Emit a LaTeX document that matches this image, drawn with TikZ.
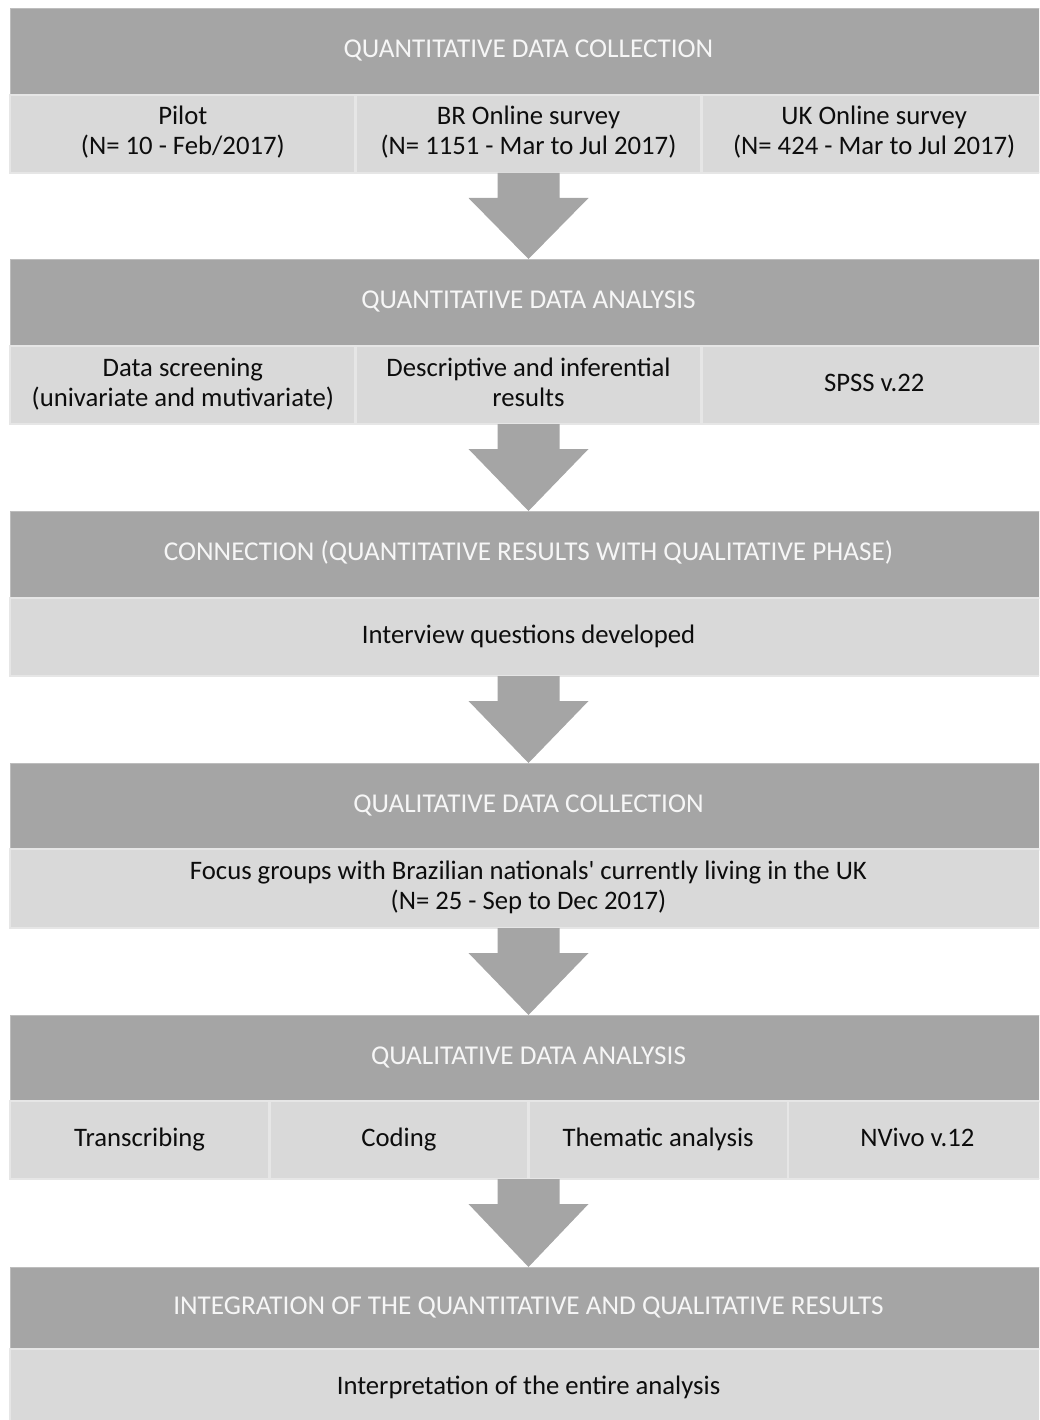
\documentclass[tikz,border=0pt]{standalone}
\usepackage{fontspec}
\setmainfont{Carlito}
\usetikzlibrary{calc}
\definecolor{headgray}{HTML}{A5A5A5}
\definecolor{headedge}{HTML}{BDBDBD}
\definecolor{cellgray}{HTML}{D9D9D9}
\definecolor{celledge}{HTML}{E6E6E6}
\definecolor{headtext}{HTML}{F6F6F6}
\definecolor{celltext}{HTML}{0D0D0D}
% block arrow from the bottom of one stage to the top of the next
\newcommand\stagearrow[2]{%
  \fill[headgray] ($(#1.south)+(-31,0)$) -- ($(#1.south)+(31,0)$)
    -- ($(#1.south)+(31,25)$) -- ($(#1.south)+(60,25)$) -- (#2.north)
    -- ($(#1.south)+(-60,25)$) -- ($(#1.south)+(-31,25)$) -- cycle;}
\begin{document}
\begin{tikzpicture}[x=1pt,y=-1pt,
  header/.style={font=\fontsize{27.2}{32}\selectfont, anchor=north west,
    minimum width=1037pt, minimum height=87pt,
    inner sep=0pt, outer sep=0pt, fill=headgray, draw=headedge, line width=0.8pt,
    text=headtext},
  cell/.style={font=\fontsize{26.7}{30}\selectfont, anchor=north west,
    minimum height=78pt, inner sep=0pt,
    outer sep=0pt, fill=cellgray, draw=celledge, line width=2.5pt,
    text=celltext, align=center},
  third/.style={cell, minimum width=345.67pt},
  quarter/.style={cell, minimum width=259.25pt},
  full/.style={cell, minimum width=1037pt}]
\useasboundingbox (0,0) rectangle (1039,1420);
\clip (0,0) rectangle (1039,1420);

% stage 1
\node[header] (h1) at (10,8) {\strut QUANTITATIVE DATA COLLECTION};
\node[full] (s1) at (10,95) {};
\node[third] (c1a) at (10,95) {\strut Pilot\\\strut(N= 10 - Feb/2017)};
\node[third] (c1b) at (355.67,95) {\strut BR Online survey\\\strut(N= 1151 - Mar to Jul 2017)};
\node[third] (c1c) at (701.33,95) {\strut UK Online survey\\\strut(N= 424 - Mar to Jul 2017)};

% stage 2
\node[header] (h2) at (10,259) {\strut QUANTITATIVE DATA ANALYSIS};
\node[full] (s2) at (10,346) {};
\node[third] (c2a) at (10,346) {\strut Data screening\\\strut(univariate and mutivariate)};
\node[third] (c2b) at (355.67,346) {\strut Descriptive and inferential\\\strut results};
\node[third] (c2c) at (701.33,346) {\strut SPSS v.22};

% stage 3
\node[header] (h3) at (10,511) {\strut CONNECTION (QUANTITATIVE RESULTS WITH QUALITATIVE PHASE)};
\node[full] (s3) at (10,598) {\strut Interview questions developed};

% stage 4
\node[header] (h4) at (10,763) {\strut QUALITATIVE DATA COLLECTION};
\node[full, minimum height=79pt] (s4) at (10,849) {\strut Focus groups with Brazilian nationals\textquotesingle{} currently living in the UK\\\strut(N= 25 - Sep to Dec 2017)};

% stage 5
\node[header] (h5) at (10,1015) {\strut QUALITATIVE DATA ANALYSIS};
\node[full] (s5) at (10,1101) {};
\node[quarter] (c5a) at (10,1101) {\strut Transcribing};
\node[quarter] (c5b) at (269.25,1101) {\strut Coding};
\node[quarter] (c5c) at (528.5,1101) {\strut Thematic analysis};
\node[quarter] (c5d) at (787.75,1101) {\strut NVivo v.12};

% stage 6
\node[header, minimum height=82pt] (h6) at (10,1267) {\strut INTEGRATION OF THE QUANTITATIVE AND QUALITATIVE RESULTS};
\node[full] (s6) at (10,1349) {\strut Interpretation of the entire analysis};

% arrows between stages
\stagearrow{s1}{h2}
\stagearrow{s2}{h3}
\stagearrow{s3}{h4}
\stagearrow{s4}{h5}
\stagearrow{s5}{h6}
\end{tikzpicture}
\end{document}
